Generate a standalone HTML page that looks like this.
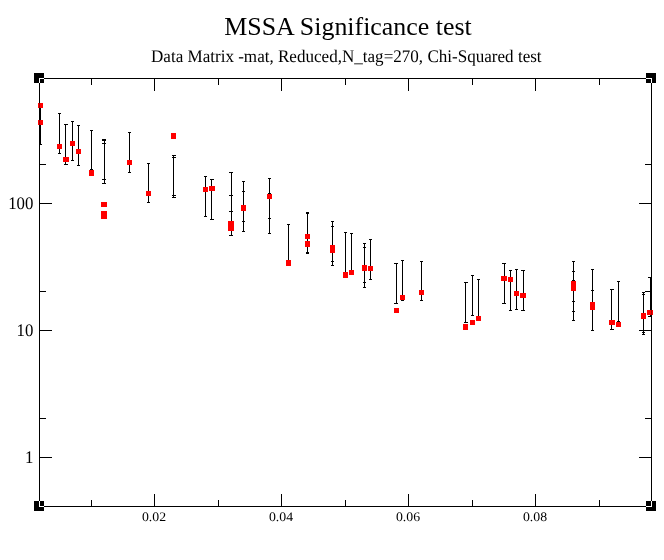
<!DOCTYPE html>
<html><head><meta charset="utf-8"><title>MSSA Significance test</title>
<style>
html,body{margin:0;padding:0;background:#fff;}
body{width:664px;height:560px;overflow:hidden;}
svg{display:block;}
text{font-family:"Liberation Serif","Times New Roman",serif;fill:#000;}
</style></head><body>
<svg width="664" height="560" viewBox="0 0 664 560" shape-rendering="crispEdges">
<rect x="0" y="0" width="664" height="560" fill="#fff"/>
<text x="348" y="35" text-anchor="middle" font-size="25.9">MSSA Significance test</text>
<text text-rendering="geometricPrecision" transform="translate(346.3 62) scale(1 1.04)" text-anchor="middle" font-size="17.07">Data Matrix -mat, Reduced,N_tag=270, Chi-Squared test</text>
<g font-size="14"><text text-rendering="geometricPrecision" transform="translate(154 521) scale(0.985 0.93)" text-anchor="middle">0.02</text><text text-rendering="geometricPrecision" transform="translate(281 521) scale(0.985 0.93)" text-anchor="middle">0.04</text><text text-rendering="geometricPrecision" transform="translate(408 521) scale(0.985 0.93)" text-anchor="middle">0.06</text><text text-rendering="geometricPrecision" transform="translate(535 521) scale(0.985 0.93)" text-anchor="middle">0.08</text></g>
<g font-size="17"><text text-rendering="geometricPrecision" transform="translate(33.4 209) scale(0.99 1.04)" text-anchor="end">100</text><text text-rendering="geometricPrecision" transform="translate(33.4 336) scale(0.99 1.04)" text-anchor="end">10</text><text text-rendering="geometricPrecision" transform="translate(33.4 463) scale(0.99 1.04)" text-anchor="end">1</text></g>
<g fill="#000"><rect x="40" y="105" width="1" height="40"/><rect x="39" y="144" width="3" height="1"/><rect x="59" y="113" width="1" height="41"/><rect x="58" y="113" width="3" height="1"/><rect x="58" y="153" width="3" height="1"/><rect x="65" y="124" width="1" height="41"/><rect x="64" y="124" width="4" height="1"/><rect x="64" y="164" width="4" height="1"/><rect x="72" y="121" width="1" height="40"/><rect x="71" y="121" width="3" height="1"/><rect x="71" y="160" width="3" height="1"/><rect x="78" y="125" width="1" height="41"/><rect x="77" y="125" width="3" height="1"/><rect x="77" y="165" width="3" height="1"/><rect x="91" y="130" width="1" height="40"/><rect x="90" y="130" width="3" height="1"/><rect x="90" y="169" width="3" height="1"/><rect x="104" y="139" width="1" height="45"/><rect x="102" y="139" width="4" height="1"/><rect x="102" y="140" width="4" height="1"/><rect x="102" y="143" width="4" height="1"/><rect x="102" y="179" width="4" height="1"/><rect x="102" y="183" width="4" height="1"/><rect x="129" y="132" width="1" height="41"/><rect x="128" y="132" width="3" height="1"/><rect x="128" y="172" width="3" height="1"/><rect x="148" y="163" width="1" height="40"/><rect x="147" y="163" width="3" height="1"/><rect x="147" y="202" width="3" height="1"/><rect x="173" y="155" width="1" height="43"/><rect x="172" y="155" width="4" height="1"/><rect x="172" y="157" width="4" height="1"/><rect x="172" y="195" width="4" height="1"/><rect x="172" y="197" width="4" height="1"/><rect x="205" y="176" width="1" height="41"/><rect x="204" y="176" width="3" height="1"/><rect x="204" y="216" width="3" height="1"/><rect x="211" y="179" width="1" height="41"/><rect x="210" y="179" width="4" height="1"/><rect x="210" y="219" width="4" height="1"/><rect x="231" y="172" width="1" height="64"/><rect x="229" y="172" width="4" height="1"/><rect x="229" y="195" width="4" height="1"/><rect x="229" y="211" width="4" height="1"/><rect x="229" y="235" width="4" height="1"/><rect x="243" y="181" width="1" height="51"/><rect x="242" y="181" width="3" height="1"/><rect x="242" y="191" width="3" height="1"/><rect x="242" y="221" width="3" height="1"/><rect x="242" y="231" width="3" height="1"/><rect x="269" y="178" width="1" height="56"/><rect x="268" y="178" width="3" height="1"/><rect x="268" y="193" width="3" height="1"/><rect x="268" y="218" width="3" height="1"/><rect x="268" y="233" width="3" height="1"/><rect x="288" y="224" width="1" height="39"/><rect x="287" y="224" width="3" height="1"/><rect x="307" y="212" width="1" height="42"/><rect x="306" y="212" width="3" height="1"/><rect x="306" y="213" width="3" height="1"/><rect x="306" y="252" width="3" height="1"/><rect x="306" y="253" width="3" height="1"/><rect x="332" y="221" width="1" height="45"/><rect x="331" y="221" width="3" height="1"/><rect x="331" y="226" width="3" height="1"/><rect x="331" y="261" width="3" height="1"/><rect x="331" y="265" width="3" height="1"/><rect x="345" y="232" width="1" height="44"/><rect x="344" y="232" width="3" height="1"/><rect x="351" y="233" width="1" height="40"/><rect x="350" y="233" width="3" height="1"/><rect x="364" y="243" width="1" height="45"/><rect x="363" y="243" width="3" height="1"/><rect x="363" y="247" width="3" height="1"/><rect x="363" y="282" width="3" height="1"/><rect x="363" y="287" width="3" height="1"/><rect x="370" y="239" width="1" height="41"/><rect x="369" y="239" width="3" height="1"/><rect x="369" y="279" width="3" height="1"/><rect x="396" y="263" width="1" height="41"/><rect x="394" y="263" width="4" height="1"/><rect x="394" y="303" width="4" height="1"/><rect x="402" y="260" width="1" height="41"/><rect x="401" y="260" width="3" height="1"/><rect x="401" y="300" width="3" height="1"/><rect x="421" y="261" width="1" height="40"/><rect x="420" y="261" width="3" height="1"/><rect x="420" y="300" width="3" height="1"/><rect x="465" y="282" width="1" height="41"/><rect x="464" y="282" width="4" height="1"/><rect x="464" y="322" width="4" height="1"/><rect x="472" y="275" width="1" height="41"/><rect x="471" y="275" width="3" height="1"/><rect x="471" y="315" width="3" height="1"/><rect x="478" y="279" width="1" height="40"/><rect x="477" y="279" width="3" height="1"/><rect x="504" y="263" width="1" height="41"/><rect x="502" y="263" width="4" height="1"/><rect x="502" y="303" width="4" height="1"/><rect x="510" y="270" width="1" height="41"/><rect x="509" y="270" width="3" height="1"/><rect x="509" y="310" width="3" height="1"/><rect x="516" y="269" width="1" height="41"/><rect x="515" y="269" width="3" height="1"/><rect x="515" y="309" width="3" height="1"/><rect x="523" y="270" width="1" height="41"/><rect x="521" y="270" width="4" height="1"/><rect x="521" y="310" width="4" height="1"/><rect x="573" y="261" width="1" height="60"/><rect x="572" y="261" width="3" height="1"/><rect x="572" y="271" width="3" height="1"/><rect x="572" y="280" width="3" height="1"/><rect x="572" y="301" width="3" height="1"/><rect x="572" y="311" width="3" height="1"/><rect x="572" y="320" width="3" height="1"/><rect x="592" y="269" width="1" height="62"/><rect x="591" y="269" width="3" height="1"/><rect x="591" y="290" width="3" height="1"/><rect x="591" y="330" width="3" height="1"/><rect x="611" y="289" width="1" height="41"/><rect x="610" y="289" width="4" height="1"/><rect x="610" y="329" width="4" height="1"/><rect x="618" y="281" width="1" height="41"/><rect x="617" y="281" width="3" height="1"/><rect x="617" y="321" width="3" height="1"/><rect x="643" y="292" width="1" height="43"/><rect x="642" y="292" width="3" height="1"/><rect x="642" y="294" width="3" height="1"/><rect x="642" y="332" width="3" height="1"/><rect x="642" y="334" width="3" height="1"/><rect x="650" y="277" width="1" height="40"/><rect x="648" y="277" width="3" height="1"/><rect x="648" y="316" width="4" height="1"/></g>
<g fill="#ff0000"><rect x="38" y="103" width="5" height="5"/><rect x="38" y="120" width="5" height="5"/><rect x="57" y="144" width="5" height="5"/><rect x="63" y="157" width="6" height="5"/><rect x="70" y="141" width="5" height="5"/><rect x="76" y="149" width="5" height="5"/><rect x="89" y="170" width="5" height="6"/><rect x="101" y="202" width="6" height="5"/><rect x="101" y="211" width="6" height="8"/><rect x="127" y="160" width="5" height="5"/><rect x="146" y="191" width="5" height="5"/><rect x="171" y="133" width="5" height="6"/><rect x="203" y="187" width="5" height="5"/><rect x="209" y="186" width="6" height="5"/><rect x="228" y="221" width="6" height="10"/><rect x="241" y="205" width="5" height="6"/><rect x="267" y="194" width="5" height="5"/><rect x="286" y="260" width="5" height="6"/><rect x="305" y="234" width="5" height="5"/><rect x="305" y="241" width="5" height="6"/><rect x="330" y="245" width="5" height="8"/><rect x="343" y="272" width="5" height="6"/><rect x="349" y="270" width="5" height="5"/><rect x="362" y="265" width="5" height="6"/><rect x="368" y="266" width="5" height="5"/><rect x="394" y="308" width="5" height="5"/><rect x="400" y="295" width="5" height="5"/><rect x="419" y="290" width="5" height="5"/><rect x="463" y="324" width="5" height="6"/><rect x="470" y="320" width="5" height="5"/><rect x="476" y="316" width="5" height="5"/><rect x="501" y="276" width="6" height="5"/><rect x="508" y="277" width="5" height="5"/><rect x="514" y="291" width="5" height="5"/><rect x="520" y="293" width="6" height="5"/><rect x="571" y="281" width="5" height="10"/><rect x="590" y="302" width="5" height="8"/><rect x="609" y="320" width="6" height="5"/><rect x="616" y="322" width="5" height="5"/><rect x="641" y="313" width="5" height="6"/><rect x="647" y="310" width="6" height="5"/></g>
<g fill="#000"><rect x="39" y="78" width="613" height="1"/><rect x="39" y="506" width="613" height="1"/><rect x="39" y="78" width="1" height="429"/><rect x="651" y="78" width="1" height="429"/><rect x="154" y="494" width="1" height="12"/><rect x="154" y="79" width="1" height="12"/><rect x="281" y="494" width="1" height="12"/><rect x="281" y="79" width="1" height="12"/><rect x="408" y="494" width="1" height="12"/><rect x="408" y="79" width="1" height="12"/><rect x="535" y="494" width="1" height="12"/><rect x="535" y="79" width="1" height="12"/><rect x="91" y="500" width="1" height="6"/><rect x="91" y="79" width="1" height="6"/><rect x="218" y="500" width="1" height="6"/><rect x="218" y="79" width="1" height="6"/><rect x="345" y="500" width="1" height="6"/><rect x="345" y="79" width="1" height="6"/><rect x="472" y="500" width="1" height="6"/><rect x="472" y="79" width="1" height="6"/><rect x="599" y="500" width="1" height="6"/><rect x="599" y="79" width="1" height="6"/><rect x="40" y="203" width="12" height="1"/><rect x="639" y="203" width="12" height="1"/><rect x="40" y="330" width="12" height="1"/><rect x="639" y="330" width="12" height="1"/><rect x="40" y="457" width="12" height="1"/><rect x="639" y="457" width="12" height="1"/><rect x="40" y="164" width="6" height="1"/><rect x="645" y="164" width="6" height="1"/><rect x="40" y="291" width="6" height="1"/><rect x="645" y="291" width="6" height="1"/><rect x="40" y="418" width="6" height="1"/><rect x="645" y="418" width="6" height="1"/></g>
<g fill="#a80000"><rect x="39" y="103" width="1" height="5"/><rect x="39" y="120" width="1" height="5"/><rect x="651" y="310" width="1" height="5"/></g>
<g fill="#000"><rect x="34" y="73" width="10" height="10"/><rect x="646" y="73" width="10" height="10"/><rect x="34" y="501" width="10" height="10"/><rect x="646" y="501" width="10" height="10"/></g>
<g fill="#fff"><rect x="39" y="78" width="5" height="1"/><rect x="39" y="78" width="1" height="5"/><rect x="646" y="78" width="6" height="1"/><rect x="651" y="78" width="1" height="5"/><rect x="39" y="501" width="1" height="6"/><rect x="39" y="506" width="5" height="1"/><rect x="651" y="501" width="1" height="6"/><rect x="646" y="506" width="6" height="1"/></g>
</svg>
</body></html>
